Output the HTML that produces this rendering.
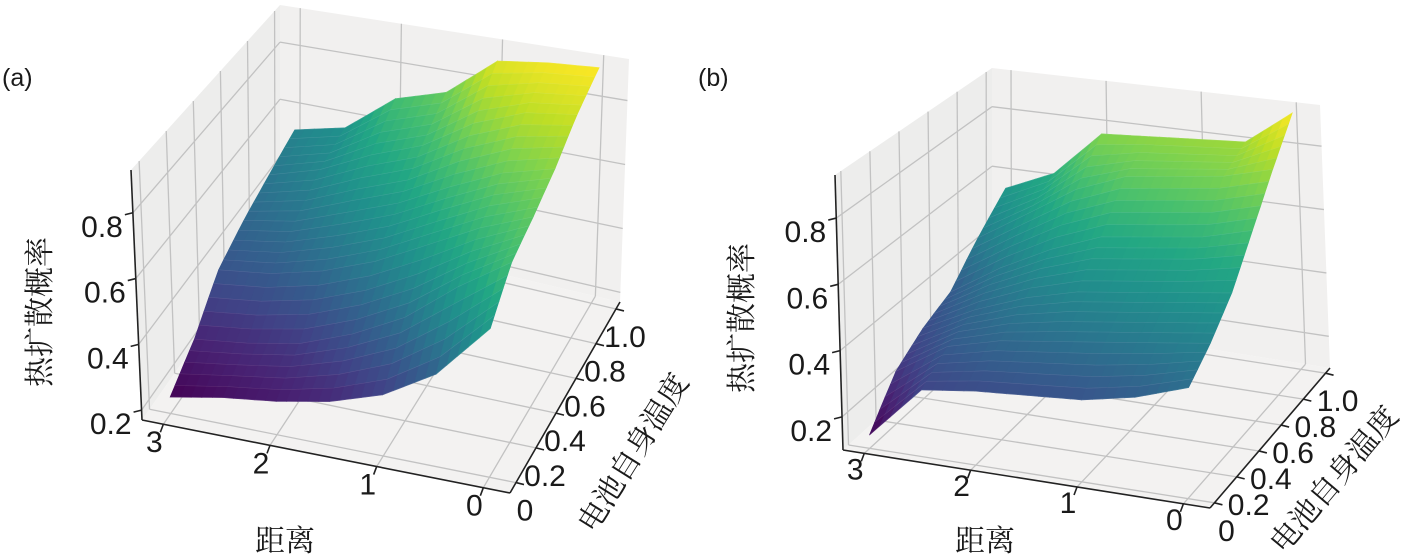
<!DOCTYPE html>
<html><head><meta charset="utf-8">
<style>
html,body{margin:0;padding:0;background:#fff;}
svg{display:block;}
text{font-family:"Liberation Sans","Noto Sans CJK SC",sans-serif;fill:#1a1a1a;}
.cjk{font-family:"Liberation Serif","Noto Serif CJK SC","Noto Sans CJK SC",serif;}
</style></head>
<body>
<svg id="chart" width="1403" height="554" viewBox="0 0 1403 554" xmlns="http://www.w3.org/2000/svg">
<text x="2" y="86" font-size="25">(a)</text>
<text x="698" y="86" font-size="25">(b)</text>
</svg>
<script>
// ---- data ----
const distValues = [3, 2.5, 2, 1.5, 1, 0.5, 0];
const tempValues = [0, 0.2, 0.4, 0.6, 0.8, 1.0];
const zGridA = [
  [0.22, 0.25, 0.27, 0.30, 0.35, 0.44, 0.60],
  [0.29, 0.31, 0.34, 0.40, 0.48, 0.60, 0.70],
  [0.40, 0.42, 0.46, 0.52, 0.60, 0.68, 0.74],
  [0.45, 0.48, 0.54, 0.60, 0.68, 0.75, 0.79],
  [0.49, 0.54, 0.62, 0.68, 0.78, 0.84, 0.86],
  [0.53, 0.57, 0.70, 0.75, 0.88, 0.90, 0.91]
];
const zGridB = [
  [0.14, 0.30, 0.32, 0.33, 0.34, 0.37, 0.42],
  [0.26, 0.36, 0.40, 0.42, 0.44, 0.46, 0.48],
  [0.32, 0.40, 0.46, 0.50, 0.52, 0.54, 0.56],
  [0.36, 0.46, 0.54, 0.60, 0.62, 0.64, 0.68],
  [0.46, 0.56, 0.66, 0.72, 0.74, 0.76, 0.80],
  [0.55, 0.62, 0.77, 0.78, 0.79, 0.80, 0.91]
];
const distTicks = [3, 2, 1, 0];
const distTickLabels = ["3", "2", "1", "0"];
const tempTicks = [0, 0.2, 0.4, 0.6, 0.8, 1.0];
const tempTickLabels = ["0", "0.2", "0.4", "0.6", "0.8", "1.0"];
const zTicks = [0.2, 0.4, 0.6, 0.8];
const zTickLabels = ["0.2", "0.4", "0.6", "0.8"];

const NS = "http://www.w3.org/2000/svg";
const svg = document.getElementById('chart');

const VIR = [[68,1,84],[72,35,116],[64,67,135],[52,94,141],[41,120,142],[32,144,140],[34,167,132],[68,190,112],[121,209,81],[189,222,38],[253,231,37]];
function viridis(f){
  f = Math.max(0, Math.min(1, f));
  const p = f*(VIR.length-1), i = Math.min(VIR.length-2, Math.floor(p)), r = p-i;
  const c = VIR[i].map((v,k)=>Math.round(v+(VIR[i+1][k]-v)*r));
  return 'rgb('+c.join(',')+')';
}
function mk(tag, attrs, parent){
  const el = document.createElementNS(NS, tag);
  for (const k in attrs) el.setAttribute(k, attrs[k]);
  (parent||svg).appendChild(el);
  return el;
}
function lerp(a,b,r){return [a[0]+(b[0]-a[0])*r, a[1]+(b[1]-a[1])*r];}
function bilerp(p00,p10,p11,p01,u,v){return lerp(lerp(p00,p10,u), lerp(p01,p11,u), v);}

function drawPanel(cfg, zGrid, key){
  const g = mk('g', {});
  
  
  const C = cfg.corners;
  const map = (d,t,z)=>{
    const u = (cfg.dmax - d)/(cfg.dmax - cfg.dmin);
    const v = (t - cfg.tmin)/(cfg.tmax - cfg.tmin);
    const w = (z - cfg.zmin)/(cfg.zmax - cfg.zmin);
    const b = bilerp(C.FLB, C.FRB, C.BRB, C.BLB, u, v);
    const tp = bilerp(C.FLT, C.FRT, C.BRT, C.BLT, u, v);
    return lerp(b, tp, w);
  };
  const pts = a=>a.map(p=>p[0].toFixed(1)+','+p[1].toFixed(1)).join(' ');
  const D0=cfg.dmax, D1=cfg.dmin, T0=cfg.tmin, T1=cfg.tmax, Z0=cfg.zmin, Z1=cfg.zmax;
  const leftPane = mk('polygon', {points: pts([map(D0,T0,Z0),map(D0,T1,Z0),map(D0,T1,Z1),map(D0,T0,Z1)]), fill:'#ededec'}, g);
  
  
  const backPane = mk('polygon', {points: pts([map(D0,T1,Z0),map(D1,T1,Z0),map(D1,T1,Z1),map(D0,T1,Z1)]), fill:'#f1f0ef'}, g);
  
  
  const floorPane = mk('polygon', {points: pts([map(D0,T0,Z0),map(D1,T0,Z0),map(D1,T1,Z0),map(D0,T1,Z0)]), fill:'#f3f2f1'}, g);
  
  
  const gl = (a,b)=>{const l=mk('line',{x1:a[0],y1:a[1],x2:b[0],y2:b[1],stroke:'#c2c2c2','stroke-width':1.3},g);
    
    };
  distTicks.forEach(d=>{gl(map(d,T0,Z0),map(d,T1,Z0)); gl(map(d,T1,Z0),map(d,T1,Z1));});
  tempTicks.forEach(t=>{gl(map(D0,t,Z0),map(D1,t,Z0)); gl(map(D0,t,Z0),map(D0,t,Z1));});
  zTicks.forEach(z=>{gl(map(D0,T0,z),map(D0,T1,z)); gl(map(D0,T1,z),map(D1,T1,z));});
  // surface
  const sub = 5, nd = distValues.length, nt = tempValues.length;
  const zmin = Math.min(...zGrid.flat()), zmax = Math.max(...zGrid.flat());
  const zAt = (i,j)=>{
    const i0=Math.min(nt-2,Math.floor(i)), j0=Math.min(nd-2,Math.floor(j)), ri=i-i0, rj=j-j0;
    const a=zGrid[i0][j0], b=zGrid[i0][j0+1], c=zGrid[i0+1][j0], e=zGrid[i0+1][j0+1];
    return (a*(1-rj)+b*rj)*(1-ri)+(c*(1-rj)+e*rj)*ri;
  };
  const fIdx = (arr,f)=>{const k=Math.min(arr.length-2,Math.floor(f)); return arr[k]+(arr[k+1]-arr[k])*(f-k);};
  const quads = [];
  for (let i=0;i<(nt-1)*sub;i++) for (let j=0;j<(nd-1)*sub;j++){
    const cs = [[i,j],[i,j+1],[i+1,j+1],[i+1,j]].map(([a,b])=>{
      const fi=a/sub, fj=b/sub;
      return {p: map(fIdx(distValues,fj), fIdx(tempValues,fi), zAt(fi,fj)), z: zAt(fi,fj)};
    });
    const zc = cs.reduce((s,c)=>s+c.z,0)/4;
    quads.push({cs, zc, depth: i - j*0.01});
  }
  quads.sort((a,b)=>b.depth-a.depth);
  const sg = mk('g', {}, g);
  
  
  quads.forEach(q=>{
    const col = viridis((q.zc-zmin)/(zmax-zmin));
    const el = mk('polygon', {points: pts(q.cs.map(c=>c.p)), fill: col, stroke: col, 'stroke-width': 0.6}, sg);
    
    
  });
  for (let i=0;i<=(nt-1)*sub;i+=1){
    const line=[]; for(let j=0;j<=(nd-1)*sub;j++){const fi=i/sub,fj=j/sub; line.push(map(fIdx(distValues,fj),fIdx(tempValues,fi),zAt(fi,fj)));}
    const pl = mk('polyline',{points:pts(line),fill:'none',stroke:'rgba(255,255,255,0.12)','stroke-width':0.6},sg);
    
    
  }
  // axes
  const ax = (a,b,name)=>{const l=mk('line',{x1:a[0],y1:a[1],x2:b[0],y2:b[1],stroke:'#222','stroke-width':1.6},g);
    
    };
  ax(map(D0,T0,Z0),map(D0,T0,Z1), key+'-z-axis');
  ax(map(D0,T0,Z0),map(D1,T0,Z0), key+'-distance-axis');
  ax(map(D1,T0,Z0),map(D1,T1,Z0), key+'-temperature-axis');
  const lbl = (x,y,s,name,anchor)=>{const t=mk('text',{x:x,y:y,'font-size':30,'text-anchor':anchor||'middle'},g); t.textContent=s;
    
     return t;};
  zTicks.forEach((z,k)=>{const p=map(D0,T0,z); ax(p,[p[0]-8,p[1]+2], key+'-z-tick');
    lbl(p[0]-10,p[1]+cfg.zOff,zTickLabels[k],key+'-z-tick-label','end');});
  distTicks.forEach((d,k)=>{const p=map(d,T0,Z0); ax(p,[p[0]-3,p[1]+8], key+'-distance-tick');
    lbl(p[0]+cfg.dOff[0],p[1]+cfg.dOff[1],distTickLabels[k],key+'-distance-tick-label');});
  tempTicks.forEach((t,k)=>{const p=map(D1,t,Z0); ax(p,[p[0]+8,p[1]+2], key+'-temperature-tick');
    lbl(p[0]+cfg.tOff[0],p[1]+cfg.tOff[1],tempTickLabels[k],key+'-temperature-tick-label');});
  const zt = mk('text',{x:0,y:0,'font-size':30,'text-anchor':'middle',class:'cjk',transform:'translate('+cfg.zTitle[0]+','+cfg.zTitle[1]+') rotate(-90)'},g);
  zt.textContent='热扩散概率';
  
  
  const dt = mk('text',{x:cfg.dTitle[0],y:cfg.dTitle[1],'font-size':30,'text-anchor':'middle',class:'cjk'},g);
  dt.textContent='距离';
  
  
  const tt = mk('text',{x:0,y:0,'font-size':30,'text-anchor':'middle',class:'cjk',transform:'translate('+cfg.tTitle[0]+','+cfg.tTitle[1]+') rotate('+cfg.tTitle[2]+')'},g);
  tt.textContent='电池自身温度';
  
  
}

drawPanel({
  dmin:-0.25, dmax:3.2, tmin:-0.06, tmax:1.04, zmin:0.17, zmax:0.93,
  corners:{FLB:[142,420],FRB:[510,493],BRB:[620,302],BLB:[280,222],
           FLT:[131,170],FRT:[512,228],BRT:[629,59],BLT:[280,5]},
  zOff:24, dOff:[-9,28], tOff:[9,38],
  zTitle:[50,312], dTitle:[285,551], tTitle:[642,458,-58]
}, zGridA, 'panel-a');

drawPanel({
  dmin:-0.25, dmax:3.2, tmin:-0.04, tmax:1.04, zmin:0.10, zmax:0.93,
  corners:{FLB:[843,450],FRB:[1210,508],BRB:[1330,368],BLB:[992,315],
           FLT:[835,175],FRT:[1213,218],BRT:[1320,105],BLT:[992,68]},
  zOff:24, dOff:[-9,26], tOff:[12,38],
  zTitle:[752,318], dTitle:[985,551], tTitle:[1342,486,-50]
}, zGridB, 'panel-b');
</script>
</body></html>
